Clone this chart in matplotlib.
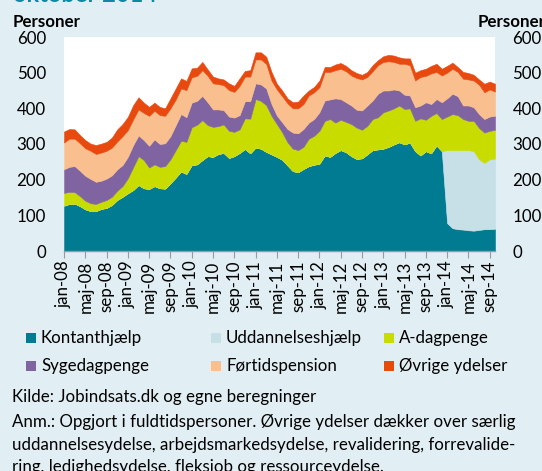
import matplotlib
matplotlib.use("Agg")
import matplotlib.pyplot as plt
from matplotlib.patches import Rectangle
import numpy as np

plt.rcParams.update({
    "font.family": ["Lato", "DejaVu Sans"],
    "font.size": 12.2,
})

BG = "#E1EEF3"

# monthly values, jan-08 .. okt-14 (82 months), fuldtidspersoner (1000)
kontanthjaelp = [
    127, 132, 133, 126, 117, 112, 112, 118, 121, 129, 143, 152, 162, 171, 185, 176,
    174, 182, 176, 175, 190, 206, 223, 216, 241, 243, 255, 266, 264, 272, 275, 261,
    266, 275, 286, 274, 290, 287, 278, 271, 264, 256, 240, 224, 221, 230, 238, 242,
    245, 268, 264, 275, 283, 277, 266, 258, 260, 271, 283, 285, 287, 292, 299, 305,
    299, 304, 280, 268, 280, 274, 296, 280, 78, 64, 61, 60, 58, 57, 59, 61,
    61, 62,
]
uddannelseshjaelp = [0] * 72 + [205, 219, 222, 223, 225, 223, 198, 186, 196, 197]
a_dagpenge = [
    36, 34, 32, 28, 24, 22, 20, 20, 22, 23, 26, 30, 42, 64, 81, 79,
    60, 61, 60, 63, 67, 77, 86, 90, 106, 111, 112, 87, 84, 78, 80, 76,
    68, 66, 86, 97, 136, 134, 131, 108, 92, 77, 65, 63, 62, 62, 77, 81,
    92, 97, 106, 85, 85, 85, 90, 88, 80, 80, 87, 90, 102, 102, 101, 103,
    99, 96, 85, 104, 88, 105, 91, 90, 94, 101, 98, 87, 82, 85, 88, 85,
    80, 81,
]
sygedagpenge = [
    66, 70, 73, 71, 70, 68, 62, 59, 60, 60, 60, 59, 60, 62, 58, 56,
    61, 70, 64, 64, 65, 70, 75, 69, 69, 67, 68, 64, 49, 47, 40, 40,
    40, 40, 48, 49, 44, 46, 47, 33, 24, 28, 37, 45, 47, 50, 45, 47,
    52, 57, 55, 68, 58, 55, 52, 50, 54, 57, 52, 66, 61, 56, 53, 42,
    40, 36, 38, 36, 49, 33, 39, 47, 51, 57, 53, 38, 43, 38, 39, 38,
    40, 39,
]
foertidspension = [
    75, 79, 77, 77, 77, 79, 78, 79, 78, 78, 78, 81, 75, 72, 73, 76,
    84, 80, 81, 77, 78, 72, 72, 76, 71, 70, 72, 74, 73, 71, 70, 74,
    72, 82, 69, 69, 67, 70, 69, 66, 73, 73, 72, 68, 70, 70, 76, 75,
    70, 80, 77, 79, 85, 87, 84, 89, 87, 80, 82, 80, 80, 82, 77, 75,
    87, 85, 75, 80, 74, 86, 76, 75, 72, 70, 68, 75, 73, 75, 82, 75,
    76, 68,
]
oevrige = [
    31, 27, 26, 23, 23, 20, 25, 25, 25, 28, 34, 34, 37, 40, 34, 29,
    25, 23, 23, 21, 28, 31, 28, 26, 25, 23, 23, 18, 19, 16, 16, 19,
    17, 21, 16, 18, 20, 20, 20, 24, 16, 16, 14, 17, 19, 24, 14, 15,
    19, 14, 14, 16, 16, 15, 15, 14, 13, 14, 17, 14, 16, 18, 18, 18,
    15, 19, 22, 19, 20, 21, 23, 19, 19, 17, 14, 19, 18, 16, 15, 24,
    22, 22,
]

series_names = ["Kontanthjælp", "Uddannelseshjælp", "A-dagpenge",
                "Sygedagpenge", "Førtidspension", "Øvrige ydelser"]
series_colors = ["#007B91", "#C7DFE7", "#C9DC00", "#8064A2", "#F9BF8F", "#E8490F"]

tick_labels = ["jan-08", "maj-08", "sep-08", "jan-09", "maj-09", "sep-09",
               "jan-10", "maj-10", "sep-10", "jan-11", "maj-11", "sep-11",
               "jan-12", "maj-12", "sep-12", "jan-13", "maj-13", "sep-13",
               "jan-14", "maj-14", "sep-14"]

W, H = 542, 471
fig = plt.figure(figsize=(W / 100, H / 100), dpi=100, facecolor=BG)
ax = fig.add_axes([64 / W, 1 - 251 / H, (495 - 64) / W, (251 - 37) / H])
ax.set_facecolor("white")

x = np.arange(len(kontanthjaelp))
polys = ax.stackplot(x, kontanthjaelp, uddannelseshjaelp, a_dagpenge,
                     sygedagpenge, foertidspension, oevrige,
                     colors=series_colors, linewidth=0)
for p in polys:
    p.set_edgecolor(p.get_facecolor())
    p.set_linewidth(0.4)

ax.set_xlim(0, len(x) - 1)
ax.set_ylim(0, 600)
ax.set_yticks(range(0, 601, 100))
ax.set_xticks(np.arange(0, 81, 4))
ax.set_xticklabels(tick_labels, rotation=90, va="top", ha="center")
for s in ["top", "left", "right"]:
    ax.spines[s].set_visible(False)
ax.spines["bottom"].set_color("#9A9A9A")
ax.spines["bottom"].set_linewidth(1.0)
ax.tick_params(axis="x", direction="out", length=5, color="#9A9A9A", pad=2)
ax.tick_params(axis="y", length=0, pad=13)

ax2 = ax.twinx()
ax2.set_ylim(0, 600)
ax2.set_yticks(range(0, 601, 100))
for s in ax2.spines.values():
    s.set_visible(False)
ax2.tick_params(axis="y", length=0, pad=12.5)

# title, cut off at the top edge in the original
fig.text(13 / W, 1 - 2.5 / H, "oktober 2014", color="#0B8AA6", fontsize=17,
         fontweight="bold", va="baseline", ha="left")
fig.text(13 / W, 1 - 22 / H, "Personer", fontweight="bold", va="center", ha="left")
fig.text(478 / W, 1 - 22 / H, "Personer", fontweight="bold", va="center", ha="left")

# legend, 2 rows x 3 columns
leg_x = [26, 211, 384]
leg_y = [338, 366]
for i, (name, col) in enumerate(zip(series_names, series_colors)):
    cx = leg_x[i % 3]
    cy = leg_y[i // 3]
    fig.add_artist(Rectangle((cx / W, 1 - (cy + 5) / H), 10 / W, 10 / H,
                             transform=fig.transFigure, color=col, lw=0))
    fig.text((cx + 15) / W, 1 - cy / H, name, va="center", ha="left")

notes = [
    "Kilde: Jobindsats.dk og egne beregninger",
    "Anm.: Opgjort i fuldtidspersoner. Øvrige ydelser dækker over særlig",
    "uddannelsesydelse, arbejdsmarkedsydelse, revalidering, forrevalide-",
    "ring, ledighedsydelse, fleksjob og ressourceydelse.",
]
for line, ny in zip(notes, [397, 422, 445, 467]):
    fig.text(12 / W, 1 - ny / H, line, va="center", ha="left")

fig.savefig("out.png", dpi=100, facecolor=BG)
